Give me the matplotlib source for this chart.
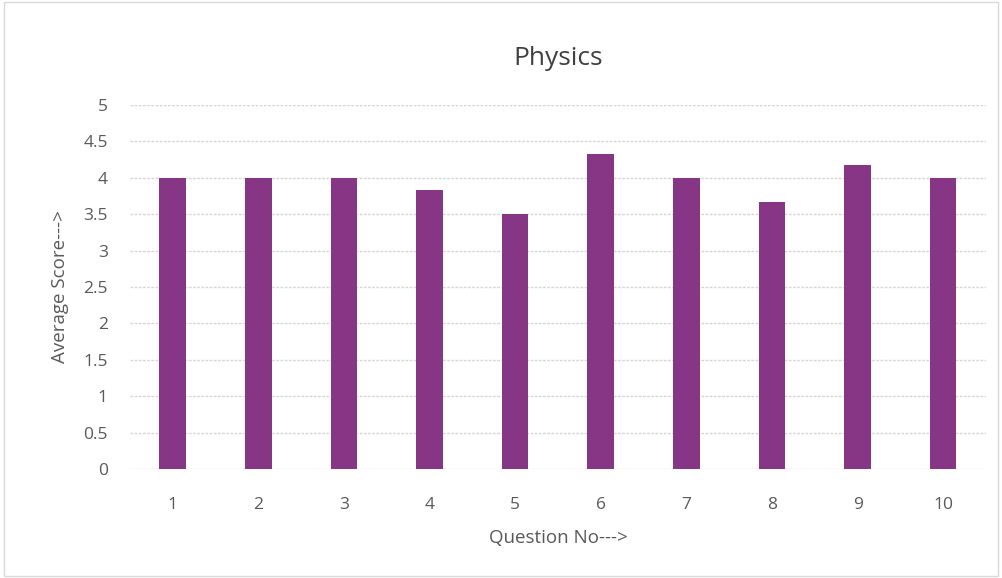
import matplotlib
matplotlib.use("Agg")
import matplotlib.pyplot as plt
from matplotlib.patches import Rectangle

questions = ["1", "2", "3", "4", "5", "6", "7", "8", "9", "10"]
avg_score = [4.0, 4.0, 4.0, 3.83, 3.5, 4.33, 4.0, 3.67, 4.17, 4.0]
y_ticks = [0, 0.5, 1, 1.5, 2, 2.5, 3, 3.5, 4, 4.5, 5]
y_tick_labels = ["0", "0.5", "1", "1.5", "2", "2.5", "3", "3.5", "4", "4.5", "5"]

plt.rcParams['font.family'] = ['Open Sans', 'DejaVu Sans']
text_color = "#595959"

fig = plt.figure(figsize=(10.02, 5.78), dpi=100)
ax = fig.add_axes([0.1297, 0.1886, 0.8543, 0.6297])

x = list(range(len(questions)))
ax.bar(x, avg_score, width=0.31, color="#873585", zorder=3)

ax.set_xlim(-0.5, len(questions) - 0.5)
ax.set_ylim(0, 5)
ax.set_xticks(x)
ax.set_xticklabels(questions)
ax.set_yticks(y_ticks)
ax.set_yticklabels(y_tick_labels)
ax.tick_params(axis='both', length=0, labelsize=12.5, colors=text_color)
ax.tick_params(axis='x', pad=20)
ax.tick_params(axis='y', pad=16)

ax.grid(axis='y', color="#d6d6d6", linewidth=1, linestyle=(0, (2, 1)), zorder=0)
for s in ax.spines.values():
    s.set_visible(False)

ax.set_title("Physics", fontsize=19, color="#404040", pad=29)
ax.set_xlabel("Question No--->", fontsize=13.5, color=text_color, labelpad=12)
ax.set_ylabel("Average Score--->", fontsize=13.5, color=text_color, labelpad=10)

# light frame around the chart area
fig.patches.append(Rectangle((0.004, 0.004), 0.992, 0.992, transform=fig.transFigure,
                             fill=False, edgecolor="#d9d9d9", linewidth=1))

fig.savefig("out.png", dpi=100)
